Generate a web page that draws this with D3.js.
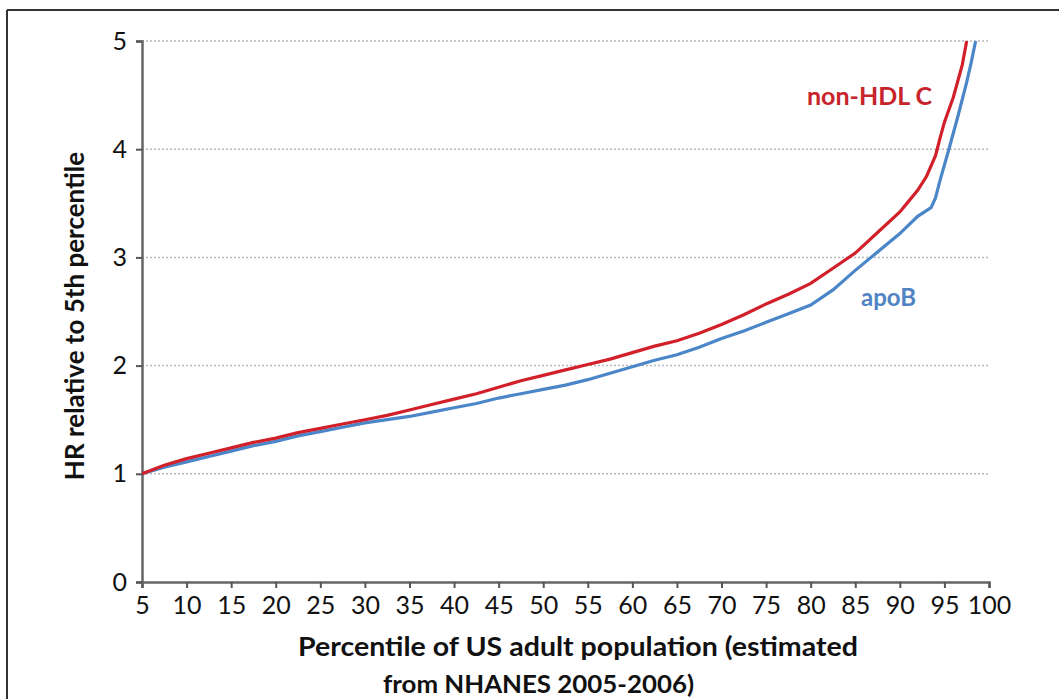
<!DOCTYPE html>
<html><head><meta charset="utf-8">
<script src="https://cdn.jsdelivr.net/npm/d3@7"></script>
<style>body{margin:0;background:#fff}svg{display:block}</style>
</head><body>
<svg id="c" width="1059" height="699"></svg>
<script>
const xTicks = [5,10,15,20,25,30,35,40,45,50,55,60,65,70,75,80,85,90,95,100];
const yTicks = [0,1,2,3,4,5];

const nonHdlP = [5,7.5,10,12.5,15,17.5,20,22.5,25,27.5,30,32.5,35,37.5,40,42.5,45,47.5,50,52.5,55,57.5,60,62.5,65,67.5,70,72.5,75,77.5,80,82.5,85,87.5,90,91,92,93,94,94.5,95,96,97,97.5];
const nonHdlV = [1.00,1.08,1.14,1.19,1.24,1.29,1.33,1.38,1.42,1.46,1.50,1.54,1.59,1.64,1.69,1.74,1.80,1.86,1.91,1.96,2.01,2.06,2.12,2.18,2.23,2.30,2.38,2.47,2.57,2.66,2.76,2.90,3.04,3.23,3.42,3.52,3.62,3.75,3.94,4.10,4.25,4.48,4.78,5.00];

const apoBP = [5,7.5,10,12.5,15,17.5,20,22.5,25,27.5,30,32.5,35,37.5,40,42.5,45,47.5,50,52.5,55,57.5,60,62.5,65,67.5,70,72.5,75,77.5,80,82.5,85,87.5,90,92,93.5,94,94.5,95.5,96.5,97.5,98,98.5];
const apoBV = [1.00,1.06,1.11,1.16,1.21,1.26,1.30,1.35,1.39,1.43,1.47,1.50,1.53,1.57,1.61,1.65,1.70,1.74,1.78,1.82,1.87,1.93,1.99,2.05,2.10,2.17,2.25,2.32,2.40,2.48,2.56,2.70,2.88,3.05,3.22,3.38,3.46,3.55,3.71,4.00,4.30,4.62,4.80,5.00];

const svg = d3.select("#c");
const FONT = "Lato, 'Open Sans', sans-serif";

// frame
svg.append("line").attr("x1",7).attr("y1",10).attr("x2",1059).attr("y2",10).attr("stroke","#333").attr("stroke-width",2);
svg.append("line").attr("x1",7).attr("y1",10).attr("x2",7).attr("y2",699).attr("stroke","#333").attr("stroke-width",2);

const x = d3.scaleLinear().domain([5,100]).range([142,989]);
const y = d3.scaleLinear().domain([0,5]).range([582,41]);

// grid
svg.append("g").selectAll("line").data(yTicks.filter(d=>d>0)).join("line")
  .attr("x1",x(5)).attr("x2",x(100)).attr("y1",d=>y(d)).attr("y2",d=>y(d))
  .attr("stroke","#b8b8b8").attr("stroke-width",1.5).attr("stroke-dasharray","2,2");

// axes
const gx = svg.append("g").attr("transform",`translate(0,${y(0)})`)
  .call(d3.axisBottom(x).tickValues(xTicks).tickFormat(d3.format("d")).tickSize(6).tickPadding(8));
const gy = svg.append("g").attr("transform",`translate(${x(5)},0)`)
  .call(d3.axisLeft(y).tickValues(yTicks).tickFormat(d3.format("d")).tickSize(6).tickPadding(9));
[gx,gy].forEach(g=>{
  g.select(".domain").attr("stroke","#666").attr("stroke-width",2.5);
  g.selectAll(".tick line").attr("stroke","#555").attr("stroke-width",2);
  g.selectAll(".tick text").attr("font-family",FONT).attr("font-size",25).attr("fill","#111");
});

// lines
const line = d3.line().x(d=>x(d[0])).y(d=>y(d[1]));
svg.append("clipPath").attr("id","pc").append("rect")
  .attr("x",x(5)).attr("y",y(5)).attr("width",x(100)-x(5)+4).attr("height",y(0)-y(5));
svg.append("path").datum(apoBP.map((p,i)=>[p,apoBV[i]])).attr("d",line)
  .attr("fill","none").attr("stroke","#4a86c8").attr("stroke-width",3.2).attr("clip-path","url(#pc)");
svg.append("path").datum(nonHdlP.map((p,i)=>[p,nonHdlV[i]])).attr("d",line)
  .attr("fill","none").attr("stroke","#d2202a").attr("stroke-width",3.2).attr("clip-path","url(#pc)");

// series labels
svg.append("text").attr("x",807).attr("y",105).text("non-HDL C")
  .attr("font-family",FONT).attr("font-weight","bold").attr("font-size",25).attr("fill","#c8242c");
svg.append("text").attr("x",861).attr("y",306).text("apoB")
  .attr("font-family",FONT).attr("font-weight","bold").attr("font-size",24).attr("fill","#4f83c3");

// axis titles
svg.append("text").attr("transform","translate(84,316) rotate(-90)").attr("text-anchor","middle")
  .text("HR relative to 5th percentile")
  .attr("font-family",FONT).attr("font-weight","bold").attr("font-size",26).attr("fill","#111");
svg.append("text").attr("x",298).attr("y",656).text("Percentile of US adult population (estimated")
  .attr("textLength",560).attr("lengthAdjust","spacingAndGlyphs")
  .attr("font-family",FONT).attr("font-weight","bold").attr("font-size",26).attr("fill","#111");
svg.append("text").attr("x",383).attr("y",693).text("from NHANES 2005-2006)")
  .attr("textLength",311).attr("lengthAdjust","spacingAndGlyphs")
  .attr("font-family",FONT).attr("font-weight","bold").attr("font-size",24).attr("fill","#111");
</script>
</body></html>
